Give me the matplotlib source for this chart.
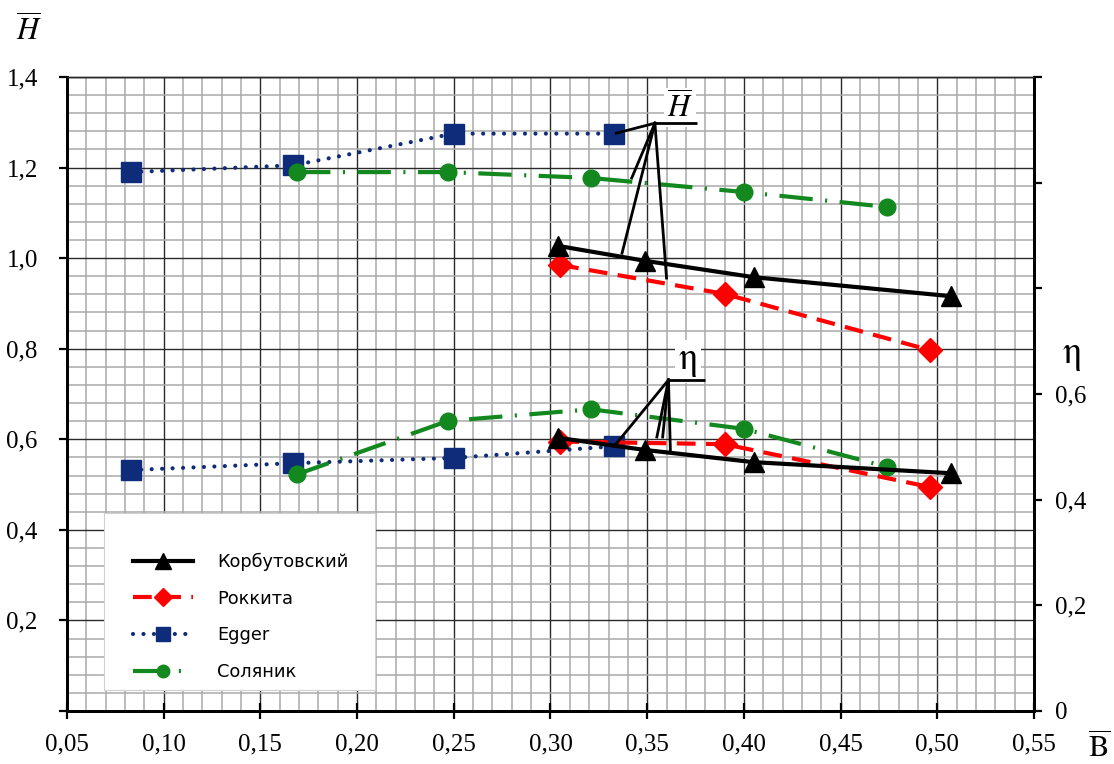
import matplotlib
matplotlib.use("Agg")
import matplotlib.pyplot as plt
from matplotlib.ticker import FixedLocator, MultipleLocator, FuncFormatter
from matplotlib.patches import Rectangle

plt.rcParams['mathtext.fontset'] = 'stix'

# ---------------- data ----------------
korb_x = [0.304, 0.349, 0.405, 0.507]
korb_H = [1.027, 0.994, 0.958, 0.916]
korb_eta = [0.517, 0.494, 0.471, 0.450]

rokk_x = [0.305, 0.390, 0.496]
rokk_H = [0.985, 0.921, 0.797]
rokk_eta = [0.510, 0.505, 0.424]

egg_x = [0.083, 0.167, 0.250, 0.333]
egg_H = [1.190, 1.205, 1.275, 1.275]
egg_eta = [0.456, 0.469, 0.479, 0.501]

sol_x = [0.169, 0.247, 0.321, 0.400, 0.474]
sol_H = [1.190, 1.190, 1.177, 1.146, 1.113]
sol_eta = [0.448, 0.549, 0.571, 0.534, 0.462]

labels = ["Корбутовский", "Роккита", "Egger", "Соляник"]

x_ticks = [0.05, 0.10, 0.15, 0.20, 0.25, 0.30, 0.35, 0.40, 0.45, 0.50, 0.55]
yl_ticks = [0.0, 0.2, 0.4, 0.6, 0.8, 1.0, 1.2, 1.4]
yr_ticks = [0.0, 0.2, 0.4, 0.6, 0.8, 1.0, 1.2]

# annotation geometry (left-axis data coords)
H_apex = (0.354, 1.298)
H_under_end = (0.376, 1.298)
H_targets = [(0.334, 1.276), (0.342, 1.177), (0.337, 1.011), (0.360, 0.956)]
H_text = (0.367, 1.333)
E_apex = (0.361, 0.731)
E_under_end = (0.380, 0.731)
E_targets = [(0.333, 0.585), (0.355, 0.605), (0.358, 0.605), (0.362, 0.574)]
E_text = (0.371, 0.772)

# ---------------- styles ----------------
C_K = 'black'
C_R = '#ff0000'
C_E = '#0f2c7a'
C_S = '#13881f'
serif = 'Liberation Serif'
tick_fs = 18

fig = plt.figure(figsize=(11.14, 7.64), dpi=100)
ax = fig.add_axes([0.0601, 0.0694, 0.9282 - 0.0601, 0.8992 - 0.0694])
ax2 = ax.twinx()

ax.set_xlim(0.05, 0.55)
ax.set_ylim(0.0, 1.4)
ax2.set_ylim(0.0, 1.2)

ax.xaxis.set_major_locator(FixedLocator(x_ticks))
ax.xaxis.set_minor_locator(MultipleLocator(0.01))
ax.yaxis.set_major_locator(FixedLocator(yl_ticks))
ax.yaxis.set_minor_locator(MultipleLocator(0.04))
ax2.yaxis.set_major_locator(FixedLocator(yr_ticks))

ax.xaxis.set_major_formatter(FuncFormatter(lambda v, p: f"{v:.2f}".replace('.', ',')))
ax.yaxis.set_major_formatter(FuncFormatter(lambda v, p: "" if v < 0.01 else f"{v:.1f}".replace('.', ',')))
ax2.yaxis.set_major_formatter(FuncFormatter(
    lambda v, p: "0" if v < 0.01 else ("" if v > 0.65 else f"{v:.1f}".replace('.', ','))))

ax.grid(which='minor', color='#aaaaaa', lw=1.1)
ax.grid(which='major', color='#2a2a2a', lw=1.0)
ax.set_axisbelow(True)

ax.tick_params(axis='x', which='major', direction='inout', length=11, width=1.6, pad=11,
               labelsize=tick_fs, labelfontfamily=serif)
ax.tick_params(axis='x', which='minor', length=0)
ax.tick_params(axis='y', which='major', direction='out', length=6, width=1.6, pad=15,
               labelsize=tick_fs, labelfontfamily=serif)
ax.tick_params(axis='y', which='minor', length=0)
ax2.tick_params(axis='y', direction='out', length=6, width=1.6, pad=9,
                labelsize=tick_fs, labelfontfamily=serif)

for a in (ax, ax2):
    for s in ('left', 'bottom', 'right'):
        a.spines[s].set_linewidth(2.0)
        a.spines[s].set_color('black')
    a.spines['top'].set_linewidth(1.0)
    a.spines['top'].set_color('#2a2a2a')

# ---------------- series ----------------
lw = 3.0
sty = dict(
    K=dict(color=C_K, lw=lw, ls='-', marker='^', ms=15, mfc=C_K, mec=C_K),
    R=dict(color=C_R, lw=lw, ls=(0, (4.5, 2.5)), marker='D', ms=12, mfc=C_R, mec=C_R),
    E=dict(color=C_E, lw=lw, ls=(0, (0.01, 2.5)), marker='s', ms=14, mfc=C_E, mec=C_E,
           dash_capstyle='round'),
    S=dict(color=C_S, lw=lw, ls=(0, (8, 3, 0.5, 3)), marker='o', ms=12, mfc=C_S, mec=C_S),
)

ax2h = {}
for key, xs, ys in (('E', egg_x, egg_H), ('S', sol_x, sol_H), ('R', rokk_x, rokk_H), ('K', korb_x, korb_H)):
    ax2.plot(xs, ys, transform=ax.transData, zorder=3, **sty[key])
for key, xs, ys in (('E', egg_x, egg_eta), ('S', sol_x, sol_eta), ('R', rokk_x, rokk_eta), ('K', korb_x, korb_eta)):
    ax2h[key] = ax2.plot(xs, ys, zorder=3, **sty[key])[0]

# ---------------- annotations ----------------
def leader(apex, end, targets, txt, tpos, fs):
    ax2.plot([apex[0], end[0]], [apex[1], end[1]], color='black', lw=2.0,
             transform=ax.transData, zorder=6, solid_capstyle='butt')
    for t in targets:
        ax2.plot([apex[0], t[0]], [apex[1], t[1]], color='black', lw=2.0,
                 transform=ax.transData, zorder=6)
    ax2.text(tpos[0], tpos[1], txt, transform=ax.transData, ha='center', va='center',
             fontsize=fs, zorder=5,
             bbox=dict(boxstyle='square,pad=0.1', fc='white', ec='none'))

leader(H_apex, H_under_end, H_targets, r'$\overline{H}$', H_text, 22)
leader(E_apex, E_under_end, E_targets, r'$\mathrm{\eta}$', E_text, 27)

# ---------------- legend ----------------
ax2.add_patch(Rectangle((0.0383, 0.0331), 0.2803, 0.279, transform=ax2.transAxes,
                        fc='white', ec='#d0d0d0', lw=0.8, zorder=7))
handles = [ax2h['K'], ax2h['R'], ax2h['E'], ax2h['S']]
leg = ax2.legend(handles, labels, loc='upper left', bbox_to_anchor=(0.068, 0.250),
                 frameon=False, prop={'family': 'DejaVu Sans', 'size': 12.8},
                 handlelength=3.4, handletextpad=1.35, labelspacing=1.06,
                 borderpad=0.0, borderaxespad=0.0, markerscale=0.75)
leg.set_zorder(8)

# ---------------- axis titles ----------------
fig.text(29 / 1114, 1 - 30 / 764, r'$\overline{H}$', ha='center', va='center', fontsize=22)
fig.text(1099 / 1114, 1 - 748 / 764, r'$\overline{\mathrm{B}}$', ha='center', va='center', fontsize=22)
fig.text(1071 / 1114, 1 - 355 / 764, r'$\mathrm{\eta}$', ha='center', va='center', fontsize=27)

fig.savefig('out.png', dpi=100)
